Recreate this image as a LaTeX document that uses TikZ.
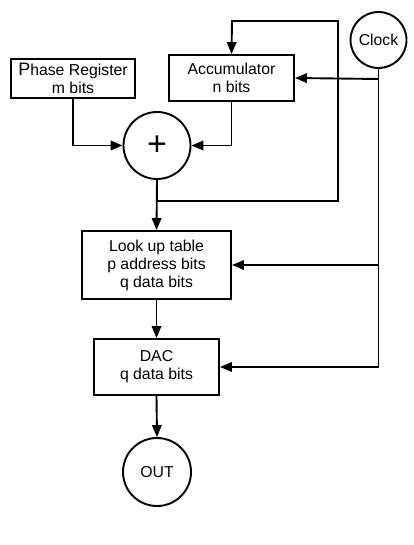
\documentclass[tikz,border=0pt]{standalone}
\usepackage{fontspec}
\setmainfont{Liberation Sans}
\usetikzlibrary{arrows.meta}
\begin{document}
\begin{tikzpicture}[x=1pt,y=-1pt,
  every node/.style={font=\fontsize{15.8}{18}\selectfont, align=center, inner sep=0pt},
  blk/.style={draw, line width=1.9pt, rectangle},
  rnd/.style={draw, line width=1.9pt, circle},
  wire/.style={line width=1.9pt},
  arr/.style={wire, -{Triangle[length=12pt,width=9.5pt]}}]
\useasboundingbox (0,0) rectangle (414,545);
\node[blk, minimum width=124pt, minimum height=39pt] (phase) at (73,78.5) {{\fontsize{18}{18}\selectfont P}hase Register\\m bits};
\node[blk, minimum width=125pt, minimum height=46pt] (acc) at (231.5,78) {Accumulator\\n bits};
\node[rnd, minimum size=67pt] (plus) at (157,145.5) {\fontsize{34}{34}\selectfont +};
\node[rnd, minimum size=56pt] (clock) at (378.5,40) {Clock};
\node[blk, minimum width=149pt, minimum height=68pt] (lut) at (156.5,265) {Look up table\\p address bits\\q data bits};
\node[blk, minimum width=125pt, minimum height=56pt] (dac) at (156.5,367) {DAC\\q data bits};
\node[rnd, minimum size=68pt] (out) at (157,472) {OUT};
% junctions
\coordinate (j) at (157,201);
\coordinate (fbr) at (338,201);
\coordinate (fbt) at (338,21);
\coordinate (fbl) at (232,21);
\coordinate (ca) at (378.5,79);
\coordinate (cl) at (378.5,265);
% connectors
\draw[arr] (phase.south) |- (plus.west);
\draw[arr] (acc.south) |- (plus.east);
\draw[arr] (plus.south) -- (lut.north);
\draw[arr, line join=miter] (j) -- (fbr) -- (fbt) -- (fbl) -- (acc.north);
\draw[arr] (clock.south) |- (dac.east);
\draw[arr] (ca) -- (acc.east);
\draw[arr] (cl) -- (lut.east);
\draw[arr] (lut.south) -- (dac.north);
\draw[arr] (dac.south) -- (out.north);
\end{tikzpicture}
\end{document}
